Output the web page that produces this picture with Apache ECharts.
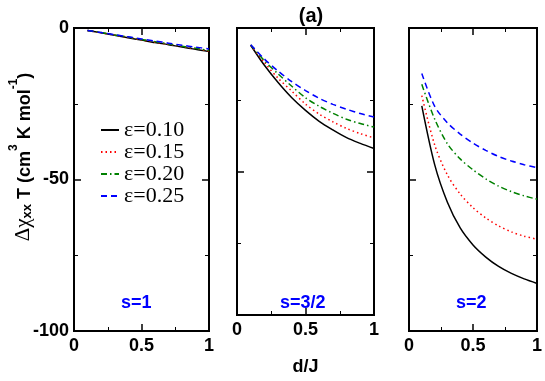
<!DOCTYPE html>
<html>
<head>
<meta charset="utf-8">
<script src="https://cdn.jsdelivr.net/npm/echarts@6/dist/echarts.min.js"></script>
<style>
  html, body { margin: 0; padding: 0; background: #fff; }
  #chart { width: 545px; height: 381px; }
</style>
</head>
<body>
<div id="chart"></div>
<script>
document.addEventListener('DOMContentLoaded', () => {
    const chart = echarts.init(document.getElementById('chart'));

    // d/J values shared by every curve
    const dJ = [0.1, 0.2, 0.3, 0.4, 0.5, 0.6, 0.7, 0.8, 0.9, 1.0];
    const epsNames = ['ε=0.10', 'ε=0.15', 'ε=0.20', 'ε=0.25'];
    const panelLabels = ['s=1', 's=3/2', 's=2'];
    const yTitle = '{g|Δχ}{sub|xx}{b| T (cm}{sup|3}{b| K mol}{sup|-1}{b|)}';

    // s=1 panel
    const s1_e10 = [-0.8, -1.6, -2.4, -3.2, -4.0, -4.8, -5.5, -6.3, -7.0, -7.8];
    const s1_e15 = [-0.8, -1.6, -2.3, -3.1, -3.9, -4.7, -5.4, -6.1, -6.8, -7.6];
    const s1_e20 = [-0.8, -1.5, -2.3, -3.0, -3.8, -4.5, -5.3, -6.0, -6.7, -7.4];
    const s1_e25 = [-0.8, -1.5, -2.2, -2.9, -3.6, -4.3, -5.0, -5.7, -6.3, -6.9];

    // s=3/2 panel
    const s32_e10 = [-6.0, -13.0, -19.0, -24.3, -28.7, -32.5, -35.5, -38.2, -40.2, -42.0];
    const s32_e15 = [-6.0, -12.0, -17.5, -22.0, -26.5, -30.0, -32.7, -35.0, -36.8, -38.3];
    const s32_e20 = [-5.9, -11.4, -16.0, -20.3, -24.3, -27.3, -29.7, -31.8, -33.3, -34.5];
    const s32_e25 = [-5.8, -10.8, -15.0, -18.7, -21.8, -24.5, -26.6, -28.3, -29.8, -31.0];

    // s=2 panel
    const s2_e10 = [-25.7, -45.0, -57.5, -66.0, -71.6, -75.6, -78.7, -81.0, -82.8, -84.3];
    const s2_e15 = [-22.3, -38.5, -48.5, -54.8, -59.3, -62.7, -65.3, -67.3, -68.7, -69.7];
    const s2_e20 = [-18.6, -30.0, -38.2, -43.2, -46.8, -49.8, -52.2, -54.0, -55.4, -56.5];
    const s2_e25 = [-15.0, -25.8, -31.3, -35.0, -38.0, -40.4, -42.4, -43.9, -45.1, -46.1];

    const panels = [
        [s1_e10, s1_e15, s1_e20, s1_e25],
        [s32_e10, s32_e15, s32_e20, s32_e25],
        [s2_e10, s2_e15, s2_e20, s2_e25]
    ];

    const lineColors = ['#000000', '#ff0000', '#008000', '#0000ff'];
    const lineTypes = ['solid', [1.5, 3], [6, 3, 1.5, 3], [6, 4]];

    const grids = [
        { left: 74, width: 135, top: 28, height: 303 },
        { left: 237, width: 137, top: 28, height: 303 },
        { left: 409, width: 129, top: 28, height: 303 }
    ];

    const boldFont = 'Liberation Sans';
    const xAxes = [];
    const yAxes = [];
    const series = [];

    grids.forEach((g, i) => {
        g.show = true;
        g.borderColor = '#000';
        g.borderWidth = 2;
        g.containLabel = false;

        // bottom x axis with labels, top one only for ticks
        [0, 1].forEach(side => {
            xAxes.push({
                type: 'value',
                gridIndex: i,
                position: side === 0 ? 'bottom' : 'top',
                min: 0, max: 1, interval: 0.5,
                axisLine: { show: false, onZero: false },
                splitLine: { show: false },
                axisTick: { show: true, inside: true, length: 7, lineStyle: { color: '#000', width: 1.5 } },
                minorTick: { show: true, splitNumber: 2, length: 4, lineStyle: { color: '#000', width: 1 } },
                axisLabel: {
                    show: side === 0,
                    margin: 6,
                    color: '#000',
                    fontFamily: boldFont,
                    fontWeight: 'bold',
                    fontSize: 18,
                    formatter: v => String(v)
                },
                name: (side === 0 && i === 1) ? 'd/J' : '',
                nameLocation: 'middle',
                nameGap: 43,
                nameTextStyle: { color: '#000', fontFamily: boldFont, fontWeight: 'bold', fontSize: 18 }
            });
        });

        [0, 1].forEach(side => {
            yAxes.push({
                type: 'value',
                gridIndex: i,
                position: side === 0 ? 'left' : 'right',
                min: -100, max: 0, interval: 50,
                axisLine: { show: false, onZero: false },
                splitLine: { show: false },
                axisTick: { show: true, inside: true, length: 7, lineStyle: { color: '#000', width: 1.5 } },
                minorTick: { show: true, splitNumber: 2, length: 4, lineStyle: { color: '#000', width: 1 } },
                axisLabel: {
                    show: side === 0 && i === 0,
                    margin: 5,
                    color: '#000',
                    fontFamily: boldFont,
                    fontWeight: 'bold',
                    fontSize: 18
                }
            });
        });

        panels[i].forEach((vals, k) => {
            series.push({
                type: 'line',
                name: epsNames[k],
                xAxisIndex: i * 2,
                yAxisIndex: i * 2,
                data: dJ.map((x, j) => [x, vals[j]]),
                smooth: 0.3,
                symbol: 'none',
                silent: true,
                animation: false,
                lineStyle: { color: lineColors[k], width: 1.5, type: lineTypes[k] },
                itemStyle: { color: lineColors[k] }
            });
        });
    });

    const labelLefts = [121, 280, 456];

    const graphics = panelLabels.map((t, i) => ({
        type: 'text',
        left: labelLefts[i],
        top: 294,
        style: {
            text: t,
            fill: '#0000ff',
            font: 'bold 18px "Liberation Sans"'
        }
    }));

    // rotated y title with sub/superscripts
    graphics.push({
        type: 'text',
        x: 21,
        y: 157,
        rotation: Math.PI / 2,
        style: {
            text: yTitle,
            align: 'center',
            verticalAlign: 'middle',
            rich: {
                g: { fontFamily: 'Liberation Serif', fontSize: 21, fill: '#000', verticalAlign: 'bottom', lineHeight: 26 },
                sub: { fontFamily: boldFont, fontWeight: 'bold', fontSize: 13, fill: '#000', verticalAlign: 'bottom', lineHeight: 26, padding: [8, 0, 0, 0] },
                b: { fontFamily: boldFont, fontWeight: 'bold', fontSize: 18, fill: '#000', verticalAlign: 'bottom', lineHeight: 26 },
                sup: { fontFamily: boldFont, fontWeight: 'bold', fontSize: 12, fill: '#000', verticalAlign: 'top', lineHeight: 26 }
            }
        }
    });

    chart.setOption({
        animation: false,
        backgroundColor: '#fff',
        title: {
            text: '(a)',
            left: 306,
            top: 1,
            textAlign: 'center',
            textStyle: { fontFamily: boldFont, fontWeight: 'bold', fontSize: 20, color: '#000' }
        },
        legend: {
            show: true,
            data: epsNames,
            orient: 'vertical',
            left: 95,
            top: 114,
            itemWidth: 18,
            itemHeight: 12,
            itemGap: 0,
            itemStyle: { opacity: 0 },
            textStyle: {
                fontFamily: 'Liberation Serif',
                fontSize: 22,
                color: '#000'
            }
        },
        grid: grids,
        xAxis: xAxes,
        yAxis: yAxes,
        series: series,
        graphic: graphics
    });
});
</script>
</body>
</html>
